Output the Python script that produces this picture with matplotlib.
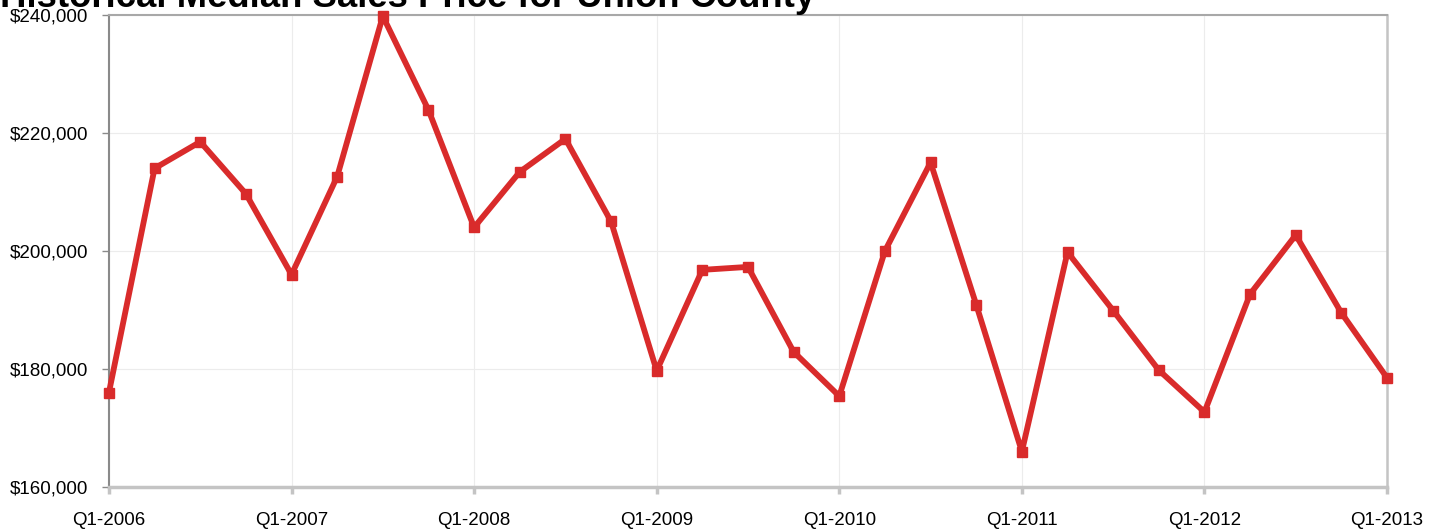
import matplotlib.pyplot as plt
from matplotlib.ticker import FuncFormatter

# quarterly median sales price, Q1-2006 .. Q1-2013
quarters = [f'Q{q}-{y}' for y in range(2006, 2014) for q in range(1, 5)][:29]
prices = [176000, 214000, 218500, 209700,
          196000, 212600, 239800, 223900,
          204000, 213400, 219000, 205000,
          179700, 196800, 197300, 182900,
          175400, 200000, 215000, 190900,
          166000, 199800, 189900, 179800,
          172700, 192700, 202700, 189500,
          178500]
y_ticks = [160000, 180000, 200000, 220000, 240000]

plt.rcParams['font.family'] = ['Liberation Sans', 'DejaVu Sans']

fig = plt.figure(figsize=(14.39, 5.31), dpi=100)
ax = fig.add_axes([0.0757, 0.0829, 0.8882, 0.8889])

x = list(range(len(prices)))
ax.plot(x, prices, color='#d92b2b', linewidth=4.2, marker='s', markersize=7.5,
        clip_on=False, zorder=3)

ax.set_xlim(0, len(prices) - 1)
ax.set_ylim(160000, 240000)

year_pos = x[::4]
ax.set_xticks(year_pos)
ax.set_xticklabels([quarters[i] for i in year_pos])
ax.set_yticks(y_ticks)
ax.yaxis.set_major_formatter(FuncFormatter(lambda v, p: f'${v:,.0f}'))

ax.grid(True, color='#ececec', linewidth=0.8)
ax.set_axisbelow(True)

ax.spines['left'].set_color('#8a8a8a')
ax.spines['left'].set_linewidth(1.5)
ax.spines['top'].set_color('#a8a8a8')
ax.spines['top'].set_linewidth(1.5)
ax.spines['right'].set_color('#c4c4c4')
ax.spines['right'].set_linewidth(1.8)
ax.spines['bottom'].set_color('#c4c4c4')
ax.spines['bottom'].set_linewidth(2.5)

ax.tick_params(axis='x', colors='#c4c4c4', length=5, width=2.5, pad=13,
               labelsize=13.5, labelcolor='black')
ax.tick_params(axis='y', colors='#8a8a8a', length=5, width=1, pad=10,
               labelsize=13.5, labelcolor='black')

fig.text(0.0, 0.987, 'Historical Median Sales Price for Union County',
         fontsize=26.3, fontweight='bold', va='baseline', ha='left')

fig.savefig('out.png', dpi=100)
